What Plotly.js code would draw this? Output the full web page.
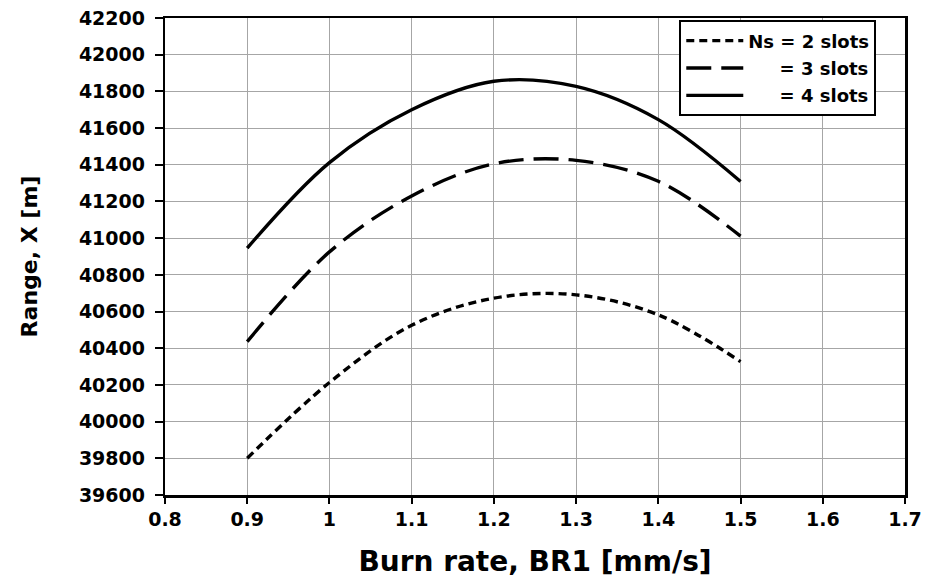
<!DOCTYPE html>
<html>
<head>
<meta charset="utf-8">
<script src="https://cdn.plot.ly/plotly-3.0.1.min.js"></script>
<style>html,body{margin:0;padding:0;background:#fff;}#chart{width:926px;height:583px;}</style>
</head>
<body>
<div id="chart"></div>
<script>
const burnRate = [0.9, 1.0, 1.1, 1.2, 1.3, 1.4, 1.5];
const range2 = [39800, 40213, 40525, 40673, 40691, 40582, 40327];
const range3 = [40436, 40925, 41230, 41405, 41424, 41310, 41011];
const range4 = [40946, 41412, 41700, 41855, 41827, 41646, 41309];
const seriesNames = ['Ns = 2 slots', '\u00A0\u00A0\u00A0\u00A0\u00A0= 3 slots', '\u00A0\u00A0\u00A0\u00A0\u00A0= 4 slots'];
const xTicks = [0.8, 0.9, 1, 1.1, 1.2, 1.3, 1.4, 1.5, 1.6, 1.7];
const yRange = [39600, 42200];

const FONT = 'DejaVu Sans, sans-serif';
const tickFont = {family: FONT, size: 19, color: '#000', weight: 'bold'};
const mk = (y, name, dash, g, ya) => ({
  x: burnRate, y: y, name: name, type: 'scatter', mode: 'lines', legendgroup: g, yaxis: ya,
  line: {color: '#000', width: 3.4, dash: dash, shape: 'spline', smoothing: 1}
});
const data = [
  mk(range2, seriesNames[0], '8px,5px', 'a', 'y'),
  mk(range3, seriesNames[1], '25px,10px', 'b', 'y'),
  mk(range4, seriesNames[2], 'solid', 'c', 'y2')
];
const layout = {
  width: 926, height: 583,
  margin: {l: 145, r: 21, t: 18, b: 88},
  paper_bgcolor: '#fff', plot_bgcolor: '#fff',
  showlegend: true,
  legend: {
    x: 0.703, y: 0.995, xanchor: 'left', yanchor: 'top',
    bgcolor: '#fff', bordercolor: '#000', borderwidth: 2,
    font: {family: FONT, size: 18, color: '#000', weight: 'bold'},
    traceorder: 'grouped', tracegroupgap: 1, itemwidth: 57
  },
  xaxis: {
    domain: [20 / 760, 1],
    range: [0.8, 1.7], tickvals: xTicks, ticktext: xTicks.map(String),
    showgrid: true, gridcolor: '#a6a6a6', gridwidth: 1,
    showline: true, linecolor: '#000', linewidth: 2.5, mirror: true,
    ticks: 'outside', ticklen: 6, tickwidth: 2, tickcolor: '#000',
    tickfont: tickFont, zeroline: false,
    title: {text: 'Burn rate, BR1 [mm/s]', standoff: 22,
      font: {family: FONT, size: 28, color: '#000', weight: 'bold'}}
  },
  yaxis: {
    anchor: 'x',
    range: yRange, dtick: 200, tick0: 39600,
    showgrid: true, gridcolor: '#a6a6a6', gridwidth: 1,
    showline: true, linecolor: '#000', linewidth: 2.5, mirror: true,
    ticks: 'outside', ticklen: 8, tickwidth: 2, tickcolor: '#000',
    showticklabels: false, zeroline: false
  },
  yaxis2: {
    overlaying: 'y', anchor: 'free', position: 0, side: 'left',
    range: yRange, dtick: 200, tick0: 39600,
    showgrid: false, showline: false, ticks: '', zeroline: false,
    tickfont: tickFont, tickformat: 'd',
    title: {text: 'Range, X [m]', standoff: 34,
      font: {family: FONT, size: 22, color: '#000', weight: 'bold'}}
  }
};
Plotly.newPlot('chart', data, layout, {displayModeBar: false, staticPlot: true});
</script>
</body>
</html>
